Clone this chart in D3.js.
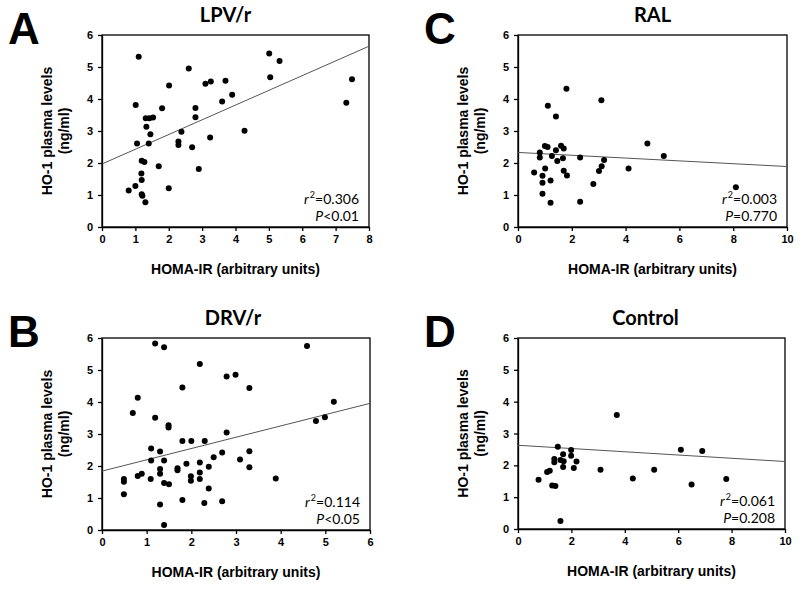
<!DOCTYPE html>
<html><head><meta charset="utf-8">
<script src="https://cdn.jsdelivr.net/npm/d3@7"></script>
<style>
body{margin:0;background:#fff;}
svg{display:block;}
</style></head>
<body>
<svg id="c" width="800" height="590"></svg>
<script>
// ---- data ----
const lpvX = [1.10,5.01,5.32,5.04,2.60,2.01,3.10,3.26,3.70,3.90,3.60,7.32,7.49,1.01,1.80,2.80,2.80,1.31,1.42,1.53,1.33,1.45,2.38,4.27,3.24,1.05,1.40,2.29,2.29,2.70,1.19,1.27,1.70,2.90,1.18,1.19,1.00,0.80,2.00,1.19,1.21,1.30];
const lpvY = [5.32,5.42,5.19,4.68,4.95,4.42,4.48,4.55,4.57,4.13,3.92,3.88,4.62,3.81,3.71,3.72,3.43,3.40,3.40,3.42,3.13,2.90,2.98,3.01,2.80,2.61,2.61,2.67,2.56,2.49,2.07,2.03,1.90,1.81,1.67,1.47,1.28,1.14,1.21,1.02,0.98,0.77];

const drvX = [1.19,1.39,4.59,2.19,2.79,2.99,1.80,3.30,0.80,0.69,1.19,5.19,4.79,4.99,1.49,1.49,2.79,1.80,2.00,2.30,1.10,1.30,2.69,3.30,2.50,1.10,1.39,2.19,3.09,1.89,2.39,3.30,1.30,1.30,1.69,1.69,2.19,0.89,0.80,0.49,0.49,1.09,1.99,1.99,2.19,3.89,1.39,1.50,2.39,0.49,1.80,2.69,1.30,2.29,1.39];
const drvY = [5.83,5.71,5.75,5.19,4.80,4.85,4.45,4.44,4.13,3.66,3.51,4.01,3.41,3.52,3.27,3.20,3.05,2.78,2.78,2.78,2.55,2.45,2.42,2.46,2.27,2.17,2.17,2.11,2.20,2.07,1.98,1.96,1.91,1.76,1.93,1.87,1.80,1.76,1.69,1.59,1.51,1.59,1.68,1.54,1.59,1.61,1.47,1.43,1.30,1.12,0.94,0.90,0.80,0.84,0.16];

const ralX = [1.80,1.11,3.10,1.41,4.81,5.42,1.00,1.10,1.60,1.70,1.41,0.81,0.81,1.26,1.46,1.67,2.31,3.20,0.60,1.01,0.91,0.91,1.21,0.91,1.21,1.70,1.82,2.31,2.80,3.01,3.11,4.11,8.10];
const ralY = [4.32,3.79,3.96,3.45,2.61,2.22,2.53,2.50,2.54,2.45,2.40,2.33,2.17,2.22,2.06,2.15,2.17,2.09,1.70,1.83,1.60,1.38,1.45,1.04,0.76,1.76,1.61,0.79,1.34,1.75,1.90,1.83,1.24];

const ctlX = [3.70,1.49,1.99,6.10,6.90,1.69,1.99,1.36,1.36,1.59,1.71,2.19,1.69,2.09,3.09,5.10,1.19,1.09,0.77,4.30,7.80,1.28,1.40,6.50,1.59];
const ctlY = [3.58,2.58,2.48,2.49,2.45,2.35,2.30,2.20,2.10,2.17,2.13,2.12,1.95,1.92,1.86,1.86,1.83,1.79,1.55,1.59,1.57,1.37,1.35,1.40,0.25];

// regression lines: [intercept, slope]
const lpvFit = [1.97, 0.46];
const drvFit = [1.84, 0.353];
const ralFit = [2.33, -0.044];
const ctlFit = [2.63, -0.051];

const titles = ["LPV/r", "DRV/r", "RAL", "Control"];
const letters = ["A", "B", "C", "D"];
const r2Labels = ["0.306", "0.114", "0.003", "0.061"];
const pLabels = ["<0.01", "<0.05", "=0.770", "=0.208"];
const xMaxes = [8, 6, 10, 10];
const xTickSteps = [1, 1, 2, 2];
const yTicks = [0,1,2,3,4,5,6];
const yLabel1 = "HO-1 plasma levels";
const yLabel2 = "(ng/ml)";
const xLabel = "HOMA-IR (arbitrary units)";

// ---- layout ----
const panels = [
  {x0:102, x1:369, y0:35,  y1:227, xs:lpvX, ys:lpvY, fit:lpvFit, i:0, titleDx:-10},
  {x0:102, x1:370, y0:338, y1:530, xs:drvX, ys:drvY, fit:drvFit, i:1, titleDx:-3},
  {x0:518, x1:787, y0:35,  y1:227, xs:ralX, ys:ralY, fit:ralFit, i:2, titleDx:0},
  {x0:518, x1:785, y0:338, y1:529, xs:ctlX, ys:ctlY, fit:ctlFit, i:3, titleDx:-6}
];

const svg = d3.select("#c");
const boldSans = "'Liberation Sans', Arial, sans-serif";
const calib = "Lato, 'Open Sans', sans-serif";

panels.forEach(p => {
  const i = p.i;
  const x = d3.scaleLinear().domain([0, xMaxes[i]]).range([p.x0, p.x1]);
  const y = d3.scaleLinear().domain([0, 6]).range([p.y1, p.y0]);
  const g = svg.append("g");

  // box
  g.append("rect").attr("x", p.x0).attr("y", p.y0)
    .attr("width", p.x1 - p.x0).attr("height", p.y1 - p.y0)
    .attr("fill", "none").attr("stroke", "#000").attr("stroke-width", 1.3);

  const xt = d3.range(0, xMaxes[i] + 0.001, xTickSteps[i]);
  const xa = g.append("g").attr("transform", `translate(0,${p.y1})`)
    .call(d3.axisBottom(x).tickValues(xt).tickSize(4).tickSizeOuter(0).tickPadding(4).tickFormat(d3.format("d")));
  const ya = g.append("g").attr("transform", `translate(${p.x0},0)`)
    .call(d3.axisLeft(y).tickValues(yTicks).tickSize(4).tickSizeOuter(0).tickPadding(5).tickFormat(d3.format("d")));
  [xa, ya].forEach(a => {
    a.select(".domain").attr("stroke", "#000").attr("stroke-width", 1.3);
    a.selectAll(".tick line").attr("stroke", "#000").attr("stroke-width", 1.3);
    a.selectAll(".tick text").attr("font-family", boldSans).attr("font-weight", "bold")
      .attr("font-size", 11).attr("fill", "#000");
  });

  // regression line
  const f = p.fit;
  g.append("line")
    .attr("x1", x(0)).attr("y1", y(f[0]))
    .attr("x2", x(xMaxes[i])).attr("y2", y(f[0] + f[1] * xMaxes[i]))
    .attr("stroke", "#555").attr("stroke-width", 1);

  // points
  g.selectAll("circle").data(p.xs.map((v, k) => [v, p.ys[k]])).enter()
    .append("circle").attr("cx", d => x(d[0])).attr("cy", d => y(d[1]))
    .attr("r", 3).attr("fill", "#000");

  // title
  g.append("text").attr("x", (p.x0 + p.x1) / 2 + p.titleDx).attr("y", p.y0 - 13)
    .attr("text-anchor", "middle").attr("font-family", calib).attr("font-weight", "bold")
    .attr("font-size", 20).text(titles[i]);

  // panel letter
  g.append("text").attr("x", p.x0 - 94).attr("y", p.y0 + 9)
    .attr("font-family", boldSans).attr("font-weight", "bold")
    .attr("font-size", 44).text(letters[i]);

  // y label
  const cy = (p.y0 + p.y1) / 2;
  g.append("text").attr("transform", `translate(${p.x0 - 50},${cy}) rotate(-90)`)
    .attr("text-anchor", "middle").attr("font-family", boldSans).attr("font-weight", "bold")
    .attr("font-size", 14).text(yLabel1);
  g.append("text").attr("transform", `translate(${p.x0 - 33},${cy}) rotate(-90)`)
    .attr("text-anchor", "middle").attr("font-family", boldSans).attr("font-weight", "bold")
    .attr("font-size", 14).text(yLabel2);

  // x label
  g.append("text").attr("x", (p.x0 + p.x1) / 2).attr("y", p.y1 + 47)
    .attr("text-anchor", "middle").attr("font-family", boldSans).attr("font-weight", "bold")
    .attr("font-size", 14).text(xLabel);

  // stats
  const t1 = g.append("text").attr("x", p.x1 - 10).attr("y", p.y1 - 23)
    .attr("text-anchor", "end").attr("font-family", calib).attr("font-size", 14);
  t1.append("tspan").attr("font-style", "italic").text("r");
  t1.append("tspan").attr("font-size", 9).attr("dy", -6).attr("dx", 1).text("2");
  t1.append("tspan").attr("dy", 6).text("=" + r2Labels[i]);
  const t2 = g.append("text").attr("x", p.x1 - 10).attr("y", p.y1 - 6)
    .attr("text-anchor", "end").attr("font-family", calib).attr("font-size", 14);
  t2.append("tspan").attr("font-style", "italic").text("P");
  t2.append("tspan").text(pLabels[i]);
});
</script>
</body></html>
